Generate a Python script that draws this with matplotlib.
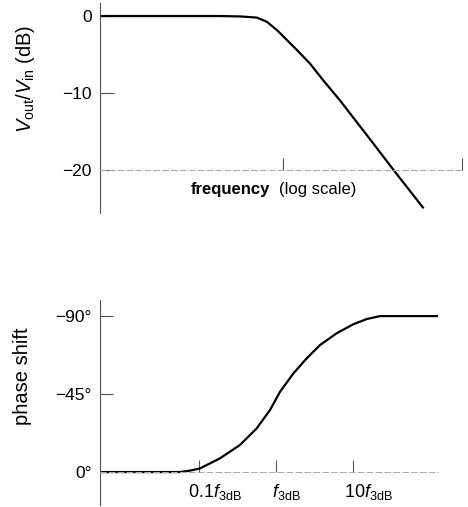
import matplotlib
matplotlib.use("Agg")
import matplotlib.pyplot as plt
import matplotlib.transforms as mtransforms
from matplotlib.ticker import NullLocator

plt.rcParams["font.family"] = ["Liberation Sans", "DejaVu Sans"]
plt.rcParams["mathtext.fontset"] = "custom"
plt.rcParams["mathtext.rm"] = "Liberation Sans"
plt.rcParams["mathtext.it"] = "Liberation Sans:italic"
plt.rcParams["axes.unicode_minus"] = True

# Amplitude response (frequency as f / f3dB, gain in dB)
gain_freq = [0.030, 0.30, 0.438, 0.604, 0.732, 0.886, 1.074, 1.30, 1.68, 2.17,
             2.99, 4.11, 5.66, 8.30, 14.8]
gain_db = [0, 0, -0.05, -0.2, -0.74, -1.8, -3.1, -4.4, -6.2, -8.4,
           -11.0, -13.8, -16.6, -20.0, -25.0]
gain_yticks = [0, -10, -20]
gain_yticklabels = ["0", "\u221210", "\u221220"]

# Phase response (frequency as f / f3dB, phase in degrees)
phase_freq = [0.00518, 0.0567, 0.076, 0.103, 0.187, 0.340, 0.561, 0.836, 1.127,
              1.68, 2.50, 3.73, 6.14, 10.1, 15.1, 22.4, 127]
phase_deg = [0, 0, -0.8, -2.1, -7.9, -15.6, -25.2, -35.8, -46.3,
             -56.9, -65.6, -73.3, -80.1, -85.3, -88.3, -90, -90]
phase_yticks = [-90, -45, 0]
phase_yticklabels = ["\u221290\u00b0", "\u221245\u00b0", "0\u00b0"]
phase_xticks = [0.1, 1, 10]
phase_xticklabels = [r"$0.1f_{\rm 3dB}$", r"$f_{\rm 3dB}$", r"$10f_{\rm 3dB}$"]

fig = plt.figure(figsize=(4.68, 5.07), dpi=100)
ax1 = fig.add_axes([0.2137, 0.580, 0.7735, 0.414])
ax2 = fig.add_axes([0.2137, 0.004, 0.7222, 0.404])

axis_col = "#555555"

# --- top: gain ---
ax1.plot(gain_freq, gain_db, color="black", lw=1.6, solid_capstyle="butt")
ax1.set_xscale("log")
ax1.set_xlim(0.0299, 30.9)
ax1.set_ylim(-25.6, 1.69)
ax1.spines["top"].set_visible(False)
ax1.spines["right"].set_visible(False)
ax1.spines["left"].set_color(axis_col)
ax1.spines["left"].set_linewidth(0.8)
ax1.spines["bottom"].set_position(("data", -20))
ax1.spines["bottom"].set_color("#aaaaaa")
ax1.spines["bottom"].set_linewidth(0.8)
ax1.spines["bottom"].set_linestyle((0, (5, 3)))
ax1.xaxis.set_minor_locator(NullLocator())
ax1.set_xticks([1.0, 30.9])
ax1.set_xticklabels([])
ax1.tick_params(axis="x", direction="in", length=9, width=0.8, color=axis_col)
ax1.set_yticks(gain_yticks)
ax1.set_yticklabels(gain_yticklabels)
ax1.tick_params(axis="y", direction="in", length=10, width=0.8, color=axis_col,
                labelsize=12.5, pad=6)
ax1.set_ylabel(r"$V_{\rm out}/V_{\rm in}$ (dB)", fontsize=14.5)
ax1.yaxis.set_label_coords(-0.175, 0.64)
ax1.text(0.78, -22.6, "frequency", fontsize=12, fontweight="bold",
         ha="right", va="center")
ax1.text(0.93, -22.6, "(log scale)", fontsize=12, ha="left", va="center")

# --- bottom: phase ---
ax2.plot(phase_freq, phase_deg, color="black", lw=1.6, solid_capstyle="butt")
ax2.set_xscale("log")
ax2.set_xlim(0.00518, 127)
ax2.set_ylim(19, -99.2)
ax2.spines["top"].set_visible(False)
ax2.spines["right"].set_visible(False)
ax2.spines["left"].set_color(axis_col)
ax2.spines["left"].set_linewidth(0.8)
ax2.spines["bottom"].set_position(("data", 0))
ax2.spines["bottom"].set_color("#aaaaaa")
ax2.spines["bottom"].set_linewidth(0.8)
ax2.spines["bottom"].set_linestyle((0, (5, 3)))
ax2.xaxis.set_minor_locator(NullLocator())
ax2.set_xticks(phase_xticks)
ax2.set_xticklabels(phase_xticklabels)
ax2.tick_params(axis="x", direction="in", length=9, width=0.8, color=axis_col,
                labelsize=13, pad=7)
offsets = [16, 10, 15]
for lab, dx in zip(ax2.get_xticklabels(), offsets):
    lab.set_transform(lab.get_transform() +
                      mtransforms.ScaledTranslation(dx / 100, 0, fig.dpi_scale_trans))
ax2.set_yticks(phase_yticks)
ax2.set_yticklabels(phase_yticklabels)
ax2.tick_params(axis="y", direction="in", length=9, width=0.8, color=axis_col,
                labelsize=12.5, pad=6)
ax2.set_ylabel("phase shift", fontsize=14.5)
ax2.yaxis.set_label_coords(-0.2, 0.63)

fig.savefig("out.png", dpi=100)
